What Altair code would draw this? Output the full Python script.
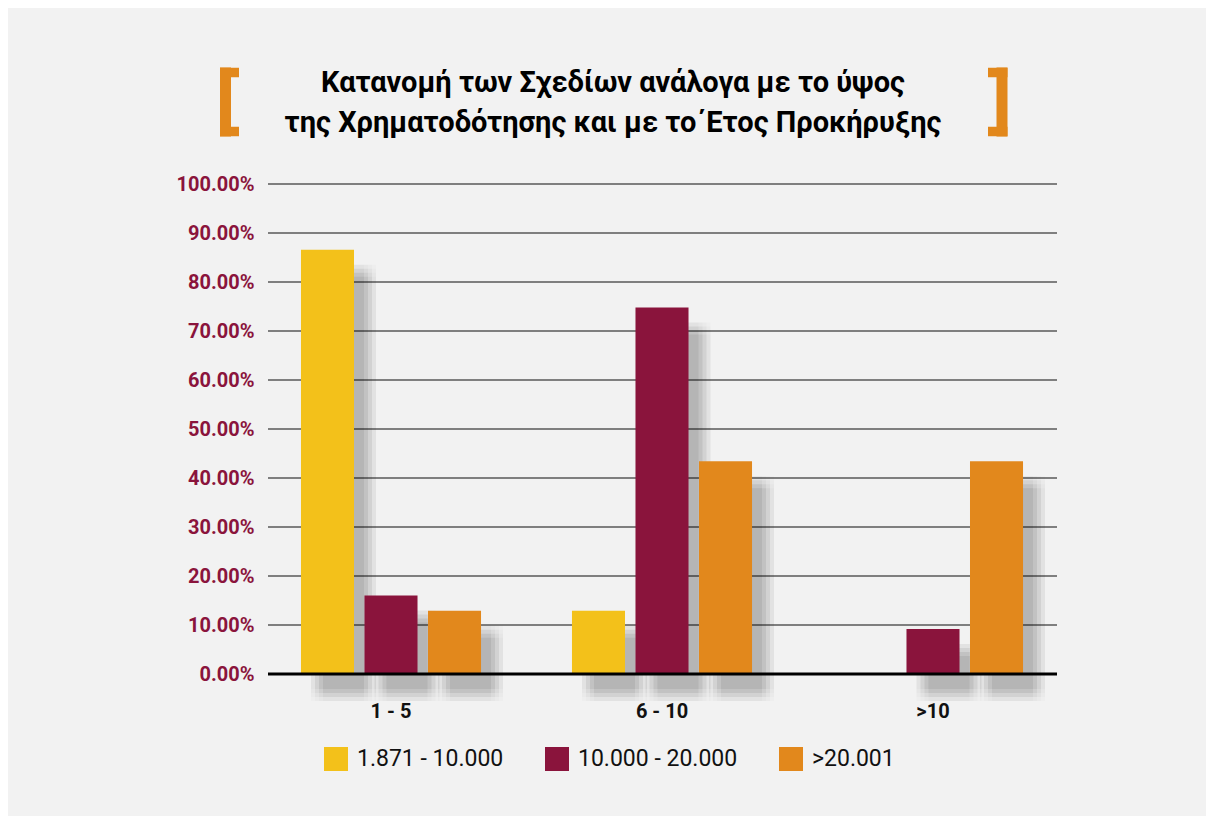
import altair as alt
import pandas as pd

# ---- data ----
years = ["1 - 5", "6 - 10", ">10"]
brackets = ["1.871 - 10.000", "10.000 - 20.000", ">20.001"]
share_low = [0.866, 0.129, 0.0]      # 1.871 - 10.000
share_mid = [0.160, 0.748, 0.092]    # 10.000 - 20.000
share_high = [0.129, 0.434, 0.434]   # >20.001
colors = ["#F3C11A", "#8A143C", "#E2881C"]
y_ticks = [i / 10 for i in range(11)]
title_lines = ["Κατανομή των Σχεδίων ανάλογα με το ύψος",
               "της Χρηματοδότησης και με το΄Ετος Προκήρυξης"]

rows = []
for b, vals in zip(brackets, [share_low, share_mid, share_high]):
    for y, v in zip(years, vals):
        rows.append({"year": y, "bracket": b, "value": v})
df = pd.DataFrame(rows)
grid_df = pd.DataFrame({"value": y_ticks[1:]})
base_df = pd.DataFrame({"value": y_ticks[:1]})

FONT = "Roboto"
BG = "#F2F2F2"
ORANGE = "#E2881C"
W, H = 789, 490
R0, R1 = -12.5, 800.5   # band range of the year scale

y_scale = alt.Scale(domain=[0, 1], nice=False)
y_axis = alt.Axis(values=y_ticks, format=".2%", labelFont=FONT, labelFontSize=20,
                  labelFontWeight="bold", labelColor="#8A143C", labelPadding=14,
                  ticks=False, domain=False, grid=False)


def y_enc():
    return alt.Y("value:Q", title=None, scale=y_scale, axis=y_axis)


def x_enc(shift=0.0, axis=None):
    return alt.X("year:N", sort=years, title=None,
                 scale=alt.Scale(range=[R0 + shift, R1 + shift],
                                 paddingInner=0, paddingOuter=0),
                 axis=axis)


xo_enc = alt.XOffset("bracket:N", sort=brackets,
                     scale=alt.Scale(paddingInner=0.165, paddingOuter=0.716))

base = alt.Chart(df)

# gridlines
grid = alt.Chart(grid_df).mark_rule(color="#7F7F7F", strokeWidth=2).encode(
    y=y_enc(), x=alt.value(0), x2=alt.value(W))

# soft shadows: a small grid of translucent shifted copies emulates a blur
shadows = []
for dx in [10, 14, 18, 22]:
    for dy in [15, 19, 23, 27]:
        shadows.append(
            base.transform_filter("datum.value > 0")
            .mark_bar(color="#000000", opacity=0.015, yOffset=dy)
            .encode(x=x_enc(dx), xOffset=xo_enc, y=y_enc())
        )

x_axis = alt.Axis(labelAngle=0, labelFont=FONT, labelFontSize=20,
                  labelFontWeight="bold", labelColor="#111111",
                  labelPadding=27, ticks=False, domain=False, grid=False)

bars = base.mark_bar().encode(
    x=x_enc(0, x_axis), xOffset=xo_enc, y=y_enc(),
    color=alt.Color("bracket:N", sort=brackets,
                    scale=alt.Scale(domain=brackets, range=colors),
                    legend=alt.Legend(title=None, orient="none", direction="horizontal",
                                      legendX=56, legendY=563, symbolType="square",
                                      symbolSize=576, symbolStrokeWidth=0,
                                      labelFont=FONT, labelFontSize=23,
                                      labelColor="#111111", labelOffset=9,
                                      columnPadding=41, padding=0)),
)

baseline = alt.Chart(base_df).mark_rule(color="#000000", strokeWidth=3).encode(
    y=y_enc(), x=alt.value(0), x2=alt.value(W))

one = alt.Data(values=[{}])


def rule(x1, x2, y1, y2, w):
    return alt.Chart(one).mark_rule(color=ORANGE, strokeWidth=w, strokeCap="butt").encode(
        x=alt.value(x1), x2=alt.value(x2), y=alt.value(y1), y2=alt.value(y2))


deco = [
    # left bracket
    rule(-42.5, -42.5, -116.5, -47.5, 11),
    rule(-48, -29, -111.5, -111.5, 9.5),
    rule(-48, -29, -52.5, -52.5, 9.5),
    # right bracket
    rule(734, 734, -116.5, -47.5, 11),
    rule(720, 739.5, -111.5, -111.5, 9.5),
    rule(720, 739.5, -52.5, -52.5, 9.5),
]

titles = [
    alt.Chart(one).mark_text(text=line, font=FONT, fontSize=29, fontWeight="bold",
                             color="#000000", align="center", baseline="alphabetic")
    .encode(x=alt.value(345), y=alt.value(yy))
    for line, yy in zip(title_lines, [-92.3, -52])
]

chart = alt.layer(grid, *shadows, bars, baseline, *deco, *titles).resolve_scale(
    x="independent", xOffset="independent"
).properties(
    width=W, height=H,
    autosize=alt.AutoSizeParams(type="none"),
    padding={"left": 260, "top": 176, "right": 149, "bottom": 142},
    background=BG,
).configure_view(stroke=None)

chart.save("out.html", embed_options={"renderer": "svg", "actions": False})
